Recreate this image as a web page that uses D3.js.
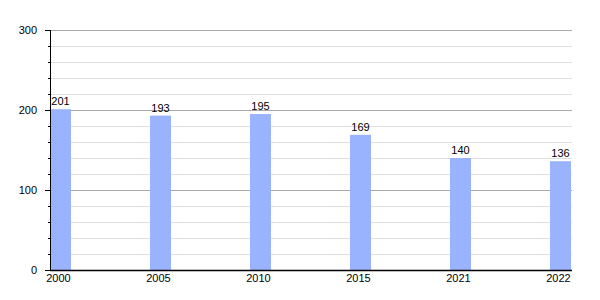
<!DOCTYPE html>
<html>
<head>
<meta charset="utf-8">
<script src="https://cdn.jsdelivr.net/npm/d3@7"></script>
<style>
  body { margin: 0; background: #fff; }
  text { font-family: "Liberation Sans", Arial, sans-serif; font-size: 11px; fill: #000; }
</style>
</head>
<body>
<div id="wrapper"></div>
<script>
const years = ["2000", "2005", "2010", "2015", "2021", "2022"];
const values = [201, 193, 195, 169, 140, 136];
const majorTicks = [0, 100, 200, 300];
const minorTicks = d3.range(0, 301, 20);

// chart dimensions
const width = 600;
const height = 300;
const margin = { top: 30, right: 28, bottom: 30, left: 50 };
const plotRight = width - margin.right;
const barWidth = 21;

const svg = d3.select("#wrapper")
  .append("svg")
  .attr("width", width)
  .attr("height", height);

// scales
const yScale = d3.scaleLinear()
  .domain([0, 300])
  .range([height - margin.bottom, margin.top]);

const xScale = d3.scalePoint()
  .domain(years)
  .range([margin.left, margin.left + 500]);

// gridlines
svg.append("g")
  .selectAll("line")
  .data(minorTicks.filter((d) => d % 100 !== 0))
  .join("line")
  .attr("x1", margin.left)
  .attr("x2", plotRight)
  .attr("y1", (d) => Math.round(yScale(d)) + 0.5)
  .attr("y2", (d) => Math.round(yScale(d)) + 0.5)
  .attr("stroke", "#e0e0e0");

svg.append("g")
  .selectAll("line")
  .data(majorTicks.filter((d) => d > 0))
  .join("line")
  .attr("x1", margin.left)
  .attr("x2", plotRight)
  .attr("y1", (d) => Math.round(yScale(d)) + 0.5)
  .attr("y2", (d) => Math.round(yScale(d)) + 0.5)
  .attr("stroke", "#a8a8a8");

// bars
const data = years.map((y, i) => ({ year: y, value: values[i] }));

svg.append("g")
  .selectAll("rect")
  .data(data)
  .join("rect")
  .attr("x", (d) => xScale(d.year))
  .attr("width", barWidth)
  .attr("y", (d) => yScale(d.value))
  .attr("height", (d) => yScale(0) - yScale(d.value))
  .attr("fill", "#99b3ff");

svg.append("g")
  .selectAll("text")
  .data(data)
  .join("text")
  .attr("x", (d) => xScale(d.year) + barWidth / 2)
  .attr("y", (d) => yScale(d.value) - 4)
  .attr("text-anchor", "middle")
  .text((d) => d.value);

// y axis
const yAxis = svg.append("g")
  .attr("transform", `translate(${margin.left + 0.5},0)`)
  .call(d3.axisLeft(yScale).tickValues(minorTicks).tickSize(2.5).tickFormat(""));
yAxis.select(".domain").remove();
yAxis.selectAll("line").attr("stroke", "#000");

svg.append("g")
  .selectAll("line")
  .data(majorTicks)
  .join("line")
  .attr("x1", margin.left - 5)
  .attr("x2", margin.left)
  .attr("y1", (d) => Math.round(yScale(d)) + 0.5)
  .attr("y2", (d) => Math.round(yScale(d)) + 0.5)
  .attr("stroke", "#000");

svg.append("g")
  .selectAll("text")
  .data(majorTicks)
  .join("text")
  .attr("x", margin.left - 13)
  .attr("y", (d) => yScale(d))
  .attr("dy", "0.35em")
  .attr("text-anchor", "end")
  .text((d) => d);

svg.append("line")
  .attr("x1", margin.left + 0.5)
  .attr("x2", margin.left + 0.5)
  .attr("y1", margin.top)
  .attr("y2", yScale(0))
  .attr("stroke", "#000");

// x axis
svg.append("line")
  .attr("x1", margin.left)
  .attr("x2", plotRight)
  .attr("y1", Math.round(yScale(0)) + 0.5)
  .attr("y2", Math.round(yScale(0)) + 0.5)
  .attr("stroke", "#000")
  .attr("stroke-width", 1.5);

svg.append("g")
  .selectAll("text")
  .data(years)
  .join("text")
  .attr("x", (d) => xScale(d) + barWidth / 2 - 2)
  .attr("y", yScale(0) + 12)
  .attr("text-anchor", "middle")
  .text((d) => d);
</script>
</body>
</html>
